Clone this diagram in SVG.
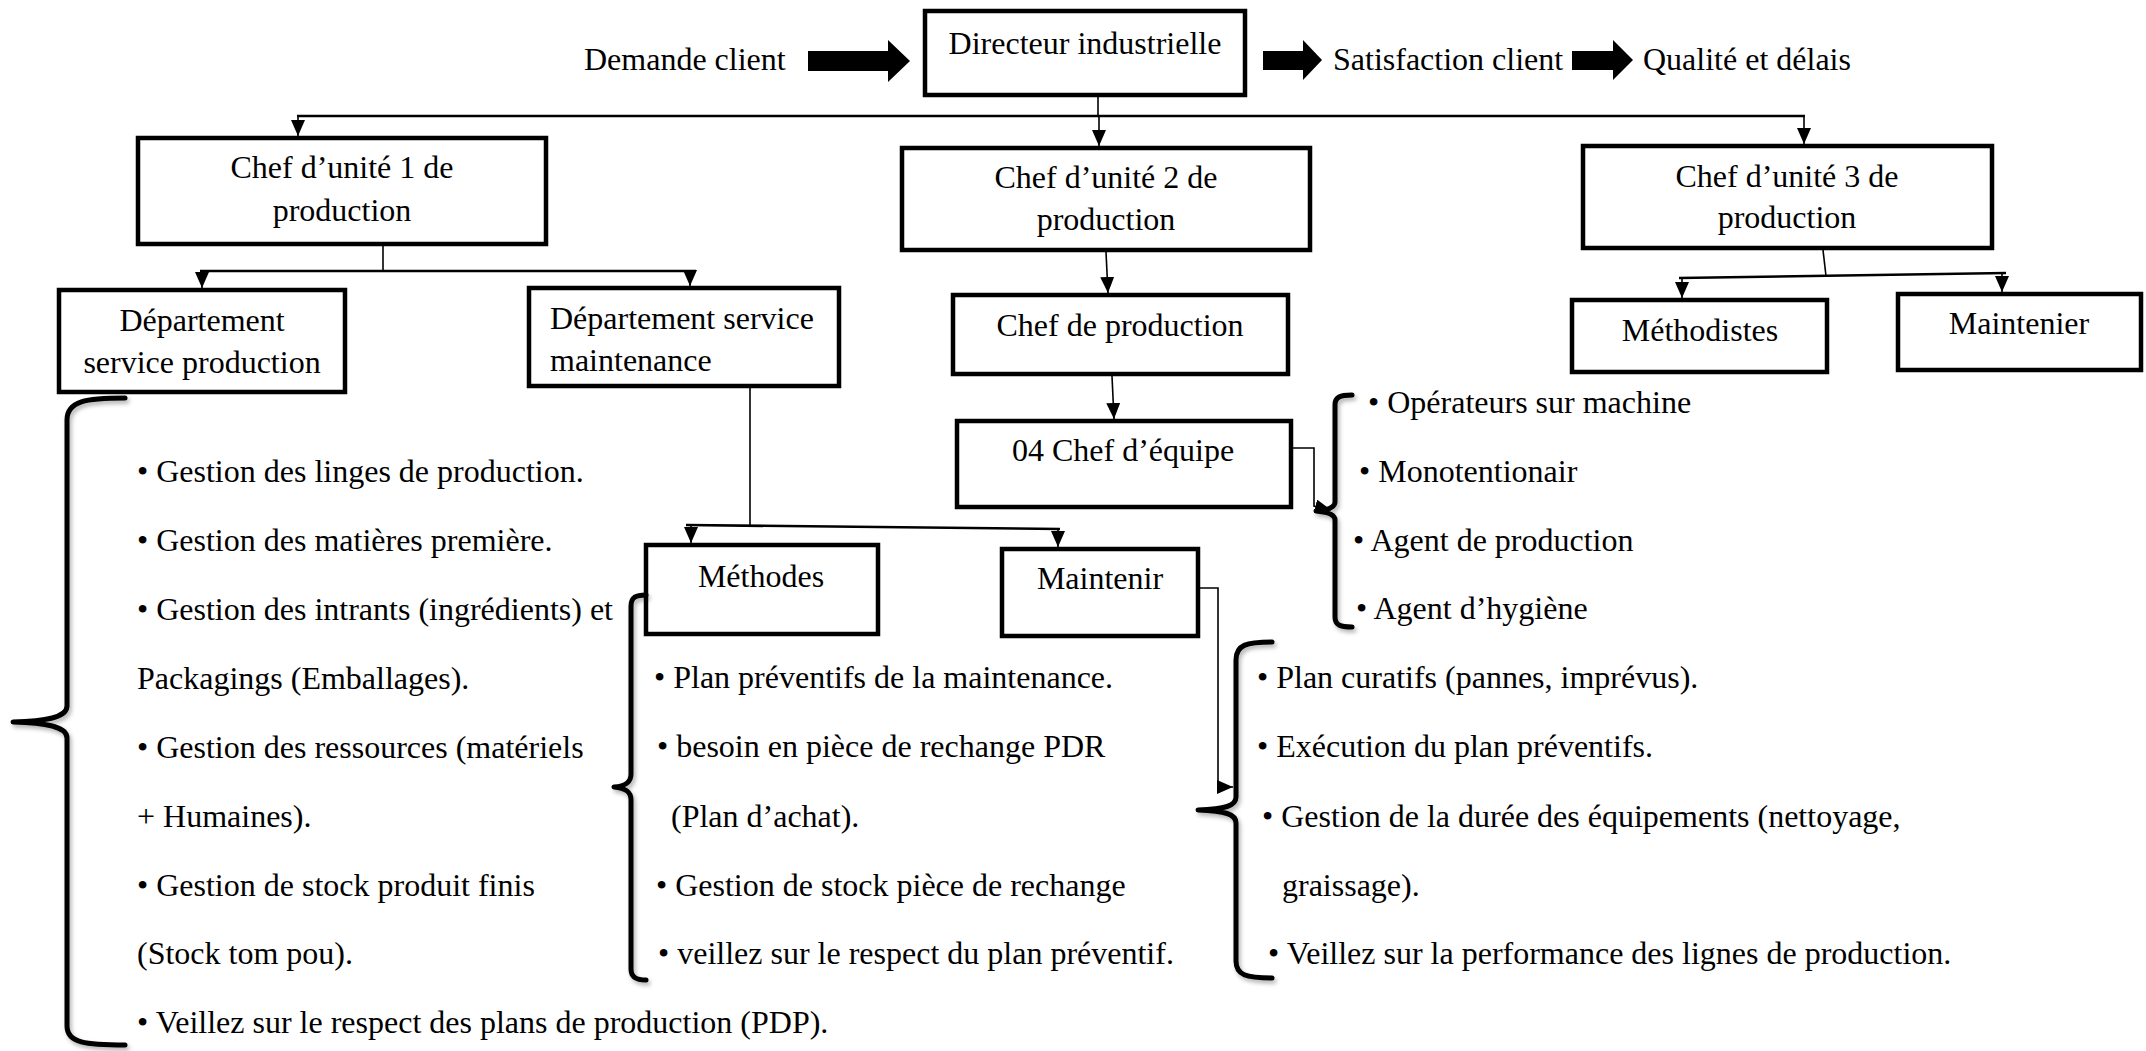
<svg xmlns="http://www.w3.org/2000/svg" width="2146" height="1051" viewBox="0 0 2146 1051">
  <defs>
    <style>
      text { font-family: "Liberation Serif", "Times New Roman", serif; font-size: 32px; fill: #000; }
      .c { text-anchor: middle; }
      .box { fill: #fff; stroke: #000; stroke-width: 4.5; }
      .ln { fill: none; stroke: #000; stroke-width: 1.6; }
      .bus { fill: none; stroke: #000; stroke-width: 2.6; }
      .brace { fill: none; stroke: #000; stroke-width: 5; stroke-linecap: round; stroke-linejoin: round; filter: url(#soft); }
      .block { fill: #000; }
    </style>
    <marker id="tip" viewBox="0 0 16 14" refX="16" refY="7" markerWidth="16" markerHeight="14" markerUnits="userSpaceOnUse" orient="auto">
      <path d="M0,0 L16,7 L0,14 z" fill="#000"/>
    </marker>
    <filter id="soft" x="-20%" y="-5%" width="140%" height="110%">
      <feDropShadow dx="2" dy="3" stdDeviation="2" flood-color="#000" flood-opacity="0.3"/>
    </filter>
  </defs>

  <rect width="2146" height="1051" fill="#fff"/>

  <!-- flow along the top: demand, director, outcomes -->
  <g id="flow">
    <text x="584" y="70">Demande client</text>
    <path class="block" d="M808,51 H888 V40 L910,61 L888,82 V71 H808 z"/>
    <path class="block" d="M1263,51 H1303 V40 L1322,60 L1303,80 V70 H1263 z"/>
    <text x="1333" y="70">Satisfaction client</text>
    <path class="block" d="M1572,51 H1613 V40 L1633,60 L1613,80 V70 H1572 z"/>
    <text x="1643" y="70">Qualité et délais</text>
  </g>

  <!-- connectors -->
  <g id="connectors">
    <path class="ln" d="M1098,95 V116"/>
    <path class="bus" d="M297,116 H1805"/>
    <path class="ln" d="M298,116 V136" marker-end="url(#tip)"/>
    <path class="ln" d="M1099,116 V146" marker-end="url(#tip)"/>
    <path class="ln" d="M1804,116 V144" marker-end="url(#tip)"/>

    <path class="ln" d="M383,246 V271"/>
    <path class="bus" d="M200,271 H696"/>
    <path class="ln" d="M202,271 V288" marker-end="url(#tip)"/>
    <path class="ln" d="M690,271 V286" marker-end="url(#tip)"/>

    <path class="ln" d="M1106,252 L1108,293" marker-end="url(#tip)"/>
    <path class="ln" d="M1112,376 L1114,419" marker-end="url(#tip)"/>

    <path class="ln" d="M1823,250 L1826,276"/>
    <path class="bus" d="M1679,278 L2006,273"/>
    <path class="ln" d="M1682,278 V298" marker-end="url(#tip)"/>
    <path class="ln" d="M2002,273 V292" marker-end="url(#tip)"/>

    <path class="ln" d="M750,388 V527"/>
    <path class="bus" d="M686,525 L1060,529"/>
    <path class="ln" d="M691,525 V543" marker-end="url(#tip)"/>
    <path class="ln" d="M1058,529 V547" marker-end="url(#tip)"/>

    <path class="ln" d="M1291,448 H1314 V506 L1331,510" marker-end="url(#tip)"/>
    <path class="ln" d="M1200,588 H1218 V787 H1233" marker-end="url(#tip)"/>
  </g>

  <!-- nodes -->
  <g id="directeur">
    <rect class="box" x="925" y="11" width="320" height="84"/>
    <text class="c" x="1085" y="54">Directeur industrielle</text>
  </g>
  <g id="unite1">
    <rect class="box" x="138" y="138" width="408" height="106"/>
    <text class="c" x="342" y="178">Chef d’unité 1 de</text>
    <text class="c" x="342" y="221">production</text>
  </g>
  <g id="unite2">
    <rect class="box" x="902" y="148" width="408" height="102"/>
    <text class="c" x="1106" y="188">Chef d’unité 2 de</text>
    <text class="c" x="1106" y="230">production</text>
  </g>
  <g id="unite3">
    <rect class="box" x="1583" y="146" width="409" height="102"/>
    <text class="c" x="1787" y="187">Chef d’unité 3 de</text>
    <text class="c" x="1787" y="228">production</text>
  </g>
  <g id="dept-production">
    <rect class="box" x="59" y="290" width="286" height="102"/>
    <text class="c" x="202" y="331">Département</text>
    <text class="c" x="202" y="373">service production</text>
  </g>
  <g id="dept-maintenance">
    <rect class="box" x="529" y="288" width="310" height="98"/>
    <text x="550" y="329">Département service</text>
    <text x="550" y="371">maintenance</text>
  </g>
  <g id="chef-production">
    <rect class="box" x="953" y="295" width="335" height="79"/>
    <text class="c" x="1120" y="336">Chef de production</text>
  </g>
  <g id="chef-equipe">
    <rect class="box" x="957" y="421" width="334" height="86"/>
    <text class="c" x="1123" y="461">04 Chef d’équipe</text>
  </g>
  <g id="methodistes">
    <rect class="box" x="1572" y="300" width="255" height="72"/>
    <text class="c" x="1700" y="341">Méthodistes</text>
  </g>
  <g id="maintenier">
    <rect class="box" x="1898" y="294" width="243" height="76"/>
    <text class="c" x="2019" y="334">Maintenier</text>
  </g>
  <g id="methodes">
    <rect class="box" x="646" y="545" width="232" height="89"/>
    <text class="c" x="761" y="587">Méthodes</text>
  </g>
  <g id="maintenir">
    <rect class="box" x="1002" y="549" width="196" height="87"/>
    <text class="c" x="1100" y="589">Maintenir</text>
  </g>

  <!-- task lists with their braces -->
  <g id="taches-production">
    <path class="brace" d="M125,398 C86,398 67,401 67,420 V706 C67,716 52,721 13,722 C52,723 67,728 67,738 V1026 C67,1043 86,1045 125,1045"/>
    <text x="137" y="482">• Gestion des linges de production.</text>
    <text x="137" y="551">• Gestion des matières première.</text>
    <text x="137" y="620">• Gestion des intrants (ingrédients) et</text>
    <text x="137" y="689">Packagings (Emballages).</text>
    <text x="137" y="758">• Gestion des ressources (matériels</text>
    <text x="137" y="827">+ Humaines).</text>
    <text x="137" y="896">• Gestion de stock produit finis</text>
    <text x="137" y="964">(Stock tom pou).</text>
    <text x="137" y="1033">• Veillez sur le respect des plans de production (PDP).</text>
  </g>

  <g id="taches-methodes">
    <path class="brace" d="M646,595 C636,595 631,597 631,606 V774 C631,782 626,786 614,787 C626,788 631,792 631,800 V969 C631,977 636,980 646,980"/>
    <text x="654" y="688">• Plan préventifs de la maintenance.</text>
    <text x="657" y="757">• besoin en pièce de rechange PDR</text>
    <text x="671" y="827">(Plan d’achat).</text>
    <text x="656" y="896">• Gestion de stock pièce de rechange</text>
    <text x="658" y="964">• veillez sur le respect du plan préventif.</text>
  </g>

  <g id="taches-maintenir">
    <path class="brace" d="M1272,642 C1246,642 1236,645 1236,660 V797 C1236,806 1225,809 1198,810 C1225,811 1236,814 1236,823 V961 C1236,975 1246,978 1272,978"/>
    <text x="1257" y="688">• Plan curatifs (pannes, imprévus).</text>
    <text x="1257" y="757">• Exécution du plan préventifs.</text>
    <text x="1262" y="827">• Gestion de la durée des équipements (nettoyage,</text>
    <text x="1282" y="896">graissage).</text>
    <text x="1268" y="964">• Veillez sur la performance des lignes de production.</text>
  </g>

  <g id="equipe">
    <path class="brace" d="M1352,395 C1340,395 1335,397 1335,405 V502 C1335,507 1328,510 1316,511 C1328,512 1335,515 1335,520 V617 C1335,625 1340,627 1352,627"/>
    <text x="1368" y="413">• Opérateurs sur machine</text>
    <text x="1359" y="482">• Monotentionair</text>
    <text x="1353" y="551">• Agent de production</text>
    <text x="1356" y="619">• Agent d’hygiène</text>
  </g>
</svg>
